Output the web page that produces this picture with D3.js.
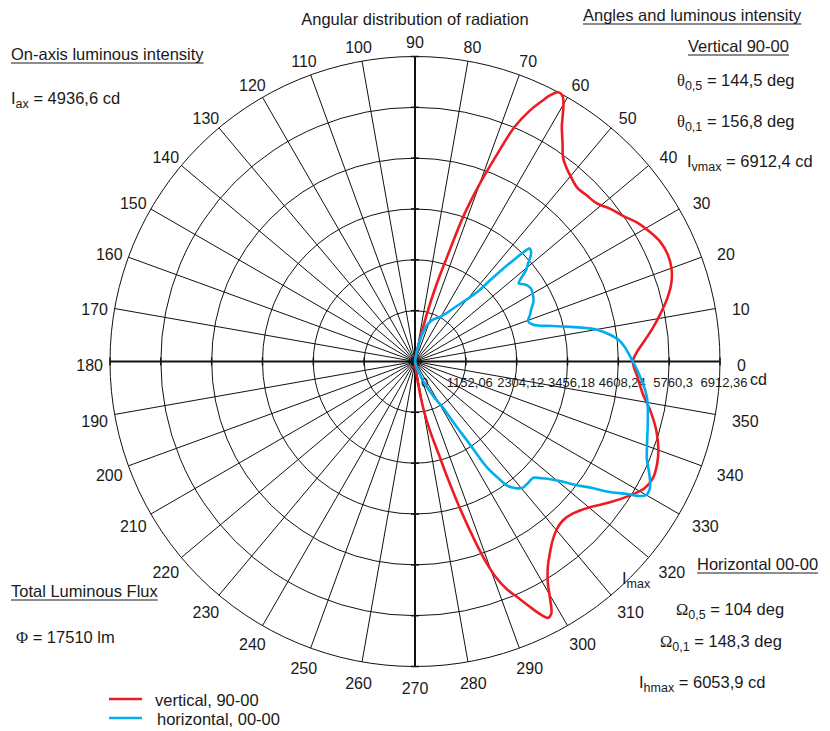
<!DOCTYPE html>
<html>
<head>
<meta charset="utf-8">
<script src="https://cdn.jsdelivr.net/npm/d3@7"></script>
<style>
  body { margin: 0; background: #fff; }
  svg { display: block; }
  text { font-family: "Liberation Sans", Arial, sans-serif; fill: #1a1a1a; }
</style>
</head>
<body>
<svg id="chart" width="830" height="731"></svg>
<script>
// Luminous intensity (cd) against polar angle (deg, counter-clockwise from 0)
const verticalAngles = [90, 85, 81, 78, 76, 74.5, 73, 71.5, 70, 68.5, 67, 65.5, 64, 63, 62, 61, 60, 59, 58, 56, 54, 52, 50, 47, 44, 41, 38, 35, 32, 29, 26, 23, 20, 17, 14, 11, 8, 5, 2, 0,
  356, 352, 348, 344, 340, 337, 334, 331, 328, 324, 320, 316, 313, 310, 307.5, 305, 303, 301, 299.5, 298.5, 297.5, 296.5, 295, 293.5, 292, 290.5, 289.5, 288.5, 287, 285.5, 284.5, 282, 280, 278, 276, 273, 270];
const verticalValues = [0, 0, 90, 450, 1090, 1770, 2450, 3510, 4280, 4990, 5780, 6230, 6570, 6780, 6912.4, 6890, 6730, 6500, 6280, 5980, 5710, 5575, 5485, 5390, 5415, 5460, 5620, 5755, 5940, 6075, 6185, 6220, 6185, 6075, 5890, 5665, 5440, 5210, 5010, 4936.6,
  5055, 5210, 5460, 5690, 5870, 5960, 6005, 5940, 5735, 5440, 5145, 4965, 4920, 4985, 5120, 5325, 5530, 5845, 6230, 6480, 6550, 6415, 6120, 5825, 5575, 5210, 4825, 4305, 3470, 2675, 2220, 1560, 1065, 545, 180, 0, 0];

const horizontalAngles = [85, 80, 76, 72, 68, 64, 60, 56, 52, 49.5, 48, 47.3, 46.5, 45.8, 45.2, 44.6, 43.5, 42.5, 41, 39.5, 38, 37, 35.5, 34, 32, 30, 27, 24, 22, 19.5, 17.5, 16, 14.5, 13, 11.5, 10, 8, 6, 4, 2, 0,
  357, 354, 351, 348, 344, 340, 337, 335, 333, 331.5, 330, 329, 328, 326, 324.5, 322.5, 320.5, 318.5, 317, 315.5, 313, 310.5, 308.5, 306.5, 305.5, 304.2, 303.4, 302.5, 301.3, 298, 293, 287, 282];
const horizontalValues = [0, 225, 565, 860, 1000, 1090, 1180, 1360, 1655, 1905, 2150, 2490, 2900, 3220, 3490, 3650, 3625, 3560, 3400, 3265, 3035, 2945, 3015, 3080, 3105, 3080, 3015, 2880, 2810, 2720, 2790, 2945, 3220, 3510, 3850, 4170, 4440, 4645, 4760, 4850, 4936.6,
  5075, 5210, 5325, 5395, 5485, 5595, 5710, 5845, 5980, 6053.9, 6050, 5915, 5665, 5280, 4940, 4600, 4260, 4010, 3875, 3760, 3760, 3760, 3670, 3490, 3240, 2900, 2150, 1740, 1225, 900, 475, 180, 0];

const angleTicks = d3.range(0, 360, 10);
const ringValues = [0, 1152.06, 2304.12, 3456.18, 4608.24, 5760.3, 6912.36];
const ringLabels = ["0", "1152,06", "2304,12", "3456,18", "4608,24", "5760,3", "6912,36"];
const intensityMax = 6912.36;

const seriesNames = ["vertical, 90-00", "horizontal, 00-00"];
const seriesColors = ["#ed1c24", "#00aeef"];

const svg = d3.select("#chart");
const cx = 415, cy = 361.5, R = 305;
const r = d3.scaleLinear().domain([0, intensityMax]).range([0, R]);
const rad = d => d * Math.PI / 180;

svg.append("rect").attr("width", 830).attr("height", 731).attr("fill", "#fff");
const g = svg.append("g").attr("transform", `translate(${cx},${cy})`);

// Concentric intensity rings
g.selectAll("circle.ring").data(ringValues.slice(1)).join("circle")
  .attr("class", "ring").attr("r", d => r(d))
  .attr("fill", "none").attr("stroke", "#111").attr("stroke-width", 1);

// Angular spokes every 10 degrees
g.selectAll("line.spoke").data(angleTicks.filter(a => a % 90 !== 0)).join("line")
  .attr("x1", 0).attr("y1", 0)
  .attr("x2", a => R * Math.cos(rad(a))).attr("y2", a => -R * Math.sin(rad(a)))
  .attr("stroke", "#111").attr("stroke-width", 1);

// Main axes
g.append("line").attr("x1", -R).attr("x2", R).attr("y1", 0).attr("y2", 0)
  .attr("stroke", "#111").attr("stroke-width", 2);
g.append("line").attr("y1", -R).attr("y2", R).attr("x1", 0).attr("x2", 0)
  .attr("stroke", "#111").attr("stroke-width", 2);

// Ticks where the rings cross the axes
const tickData = [];
ringValues.slice(1).forEach(v => [0, 90, 180, 270].forEach(a => tickData.push({ v, a })));
g.selectAll("line.tick").data(tickData).join("line")
  .attr("class", "tick")
  .attr("transform", d => `rotate(${-d.a}) translate(${r(d.v)},0)`)
  .attr("x1", 0).attr("x2", 0).attr("y1", -4).attr("y2", 4)
  .attr("stroke", "#111").attr("stroke-width", 1.5);

// Angle labels around the outside
const angleLabels = g.selectAll("text.ang").data(angleTicks).join("text")
  .attr("class", "ang").attr("font-size", 16).text(a => a);
angleLabels.each(function (a) {
  const c = Math.cos(rad(a)), s = Math.sin(rad(a));
  const w = this.getComputedTextLength(), h = 11.5;
  const px = (R + 12) * c + 5 * Math.abs(c);
  const py = -(R + 12) * s + 3.5;
  d3.select(this).attr("text-anchor", "middle")
    .attr("x", px + c * w / 2)
    .attr("y", py - s * h / 2 + h / 2);
});

// Intensity scale labels along the 0 axis
g.selectAll("text.rlab").data(ringValues).join("text")
  .attr("class", "rlab").attr("font-size", 13)
  .attr("text-anchor", (d, i) => i === 0 ? "start" : "middle")
  .attr("x", (d, i) => i === 0 ? 6 : r(d) + 4)
  .attr("y", 25)
  .text((d, i) => ringLabels[i]);
g.append("text").attr("font-size", 16).attr("x", 335).attr("y", 23.5).text("cd");

// Intensity curves
const toPoints = (angles, values) => angles.map((a, i) => [a > 180 ? a - 360 : a, values[i]]);
const radial = d3.lineRadial()
  .angle(d => rad(90 - d[0]))
  .radius(d => r(d[1]))
  .curve(d3.curveCatmullRom.alpha(0.5));

const series = [toPoints(verticalAngles, verticalValues), toPoints(horizontalAngles, horizontalValues)];
g.selectAll("path.curve").data(series).join("path")
  .attr("class", "curve").attr("d", radial)
  .attr("fill", "none").attr("stroke", (d, i) => seriesColors[i])
  .attr("stroke-width", 2.6).attr("stroke-linejoin", "round");

// Text blocks
const serif = '"Liberation Serif","DejaVu Serif",serif';
function rich(x, y, parts, opts = {}) {
  const t = svg.append("text").attr("x", x).attr("y", y).attr("font-size", 16.5);
  parts.forEach(p => {
    const ts = t.append("tspan").text(p.t);
    if (p.sub) ts.attr("font-size", 12.5).attr("dy", 4);
    if (p.after) ts.attr("dy", -4);
    if (p.serif) ts.style("font-family", serif);
  });
  if (opts.anchor) t.attr("text-anchor", opts.anchor);
  if (opts.underline) {
    const w = t.node().getComputedTextLength();
    const x0 = opts.anchor === "middle" ? x - w / 2 : x;
    svg.append("line").attr("x1", x0).attr("x2", x0 + w)
      .attr("y1", y + 3).attr("y2", y + 3)
      .attr("stroke", "#1a1a1a").attr("stroke-width", 1);
  }
  return t;
}

rich(415, 25, [{ t: "Angular distribution of radiation" }], { anchor: "middle" });
rich(11, 60, [{ t: "On-axis luminous intensity" }], { underline: true });
rich(11, 104, [{ t: "I" }, { t: "ax", sub: true }, { t: " = 4936,6 cd", after: true }]);

rich(583, 21, [{ t: "Angles and luminous intensity" }], { underline: true });
rich(688, 52, [{ t: "Vertical 90-00" }], { underline: true });
rich(677, 86, [{ t: "θ", serif: true }, { t: "0,5", sub: true }, { t: " = 144,5 deg", after: true }]);
rich(677, 127, [{ t: "θ", serif: true }, { t: "0,1", sub: true }, { t: " = 156,8 deg", after: true }]);
rich(687, 167, [{ t: "I" }, { t: "vmax", sub: true }, { t: " = 6912,4 cd", after: true }]);

rich(697, 570, [{ t: "Horizontal 00-00" }], { underline: true });
rich(676, 615, [{ t: "Ω", serif: true }, { t: "0,5", sub: true }, { t: " = 104 deg", after: true }]);
rich(660, 647, [{ t: "Ω", serif: true }, { t: "0,1", sub: true }, { t: " = 148,3 deg", after: true }]);
rich(639, 688, [{ t: "I" }, { t: "hmax", sub: true }, { t: " = 6053,9 cd", after: true }]);
rich(622, 584, [{ t: "I" }, { t: "max", sub: true }]);

rich(11, 597, [{ t: "Total Luminous Flux" }], { underline: true });
rich(16, 643, [{ t: "Φ", serif: true }, { t: " = 17510 lm" }]);

// Legend
const legend = svg.append("g");
seriesNames.forEach((name, i) => {
  const y = 699 + i * 19;
  legend.append("line").attr("x1", 109).attr("x2", 142).attr("y1", y).attr("y2", y)
    .attr("stroke", seriesColors[i]).attr("stroke-width", 2.4);
  legend.append("text").attr("x", 155 + i * 2).attr("y", y + 7).attr("font-size", 16.5).text(name);
});
</script>
</body>
</html>
